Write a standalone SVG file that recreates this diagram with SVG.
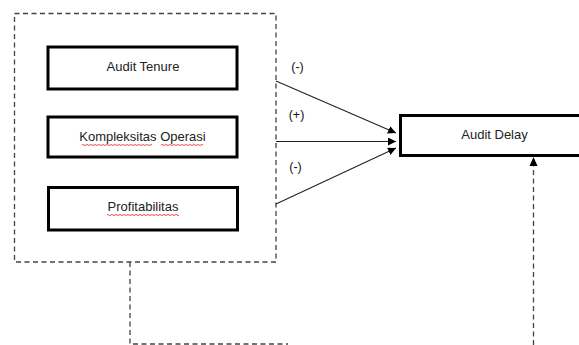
<svg xmlns="http://www.w3.org/2000/svg" width="579" height="345" viewBox="0 0 579 345">
<style>
.box{fill:#fff;stroke:#000;stroke-width:3}
.lbl{font-family:"Liberation Sans",Arial,sans-serif;font-size:13px;fill:#222;text-anchor:middle}
.sgn{font-family:"Liberation Sans",Arial,sans-serif;font-size:12.5px;fill:#111;text-anchor:middle}
.dash{fill:none;stroke:#444;stroke-width:1.3;stroke-dasharray:5 3.5}
.conn{fill:none;stroke:#222;stroke-width:1.1}
.sq{fill:none;stroke:#e02020;stroke-width:0.8}
</style>
<defs>
<marker id="ah" viewBox="0 0 10 10" refX="10" refY="5" markerWidth="8" markerHeight="8" markerUnits="userSpaceOnUse" orient="auto">
<path d="M0,0 L10,5 L0,10 z" fill="#000"/>
</marker>
</defs>
<rect width="579" height="345" fill="#fff"/>
<g id="frame">
<rect class="dash" x="14.5" y="13.5" width="261.5" height="248.5"/>
</g>
<g id="audit-tenure">
<rect class="box" x="48" y="47" width="189" height="42"/>
<text class="lbl" x="143" y="71">Audit Tenure</text>
</g>
<g id="kompleksitas-operasi">
<rect class="box" x="48" y="117" width="189" height="40"/>
<text class="lbl" x="142.5" y="141">Kompleksitas Operasi</text>
<path class="sq" d="M82,145 q1,-1 2,0 t2,0 t2,0 t2,0 t2,0 t2,0 t2,0 t2,0 t2,0 t2,0 t2,0 t2,0 t2,0 t2,0 t2,0 t2,0 t2,0 t2,0 t2,0 t2,0 t2,0 t2,0 t2,0 t2,0 t2,0 t2,0 t2,0 t2,0 t2,0 t2,0 t2,0 t2,0 t2,0 t2,0 t2,0"/>
<path class="sq" d="M161,145 q1,-1 2,0 t2,0 t2,0 t2,0 t2,0 t2,0 t2,0 t2,0 t2,0 t2,0 t2,0 t2,0 t2,0 t2,0 t2,0 t2,0 t2,0 t2,0 t2,0 t2,0 t2,0"/>
</g>
<g id="profitabilitas">
<rect class="box" x="48.5" y="187.5" width="189" height="42.5"/>
<text class="lbl" x="143" y="211">Profitabilitas</text>
<path class="sq" d="M107,215 q1,-1 2,0 t2,0 t2,0 t2,0 t2,0 t2,0 t2,0 t2,0 t2,0 t2,0 t2,0 t2,0 t2,0 t2,0 t2,0 t2,0 t2,0 t2,0 t2,0 t2,0 t2,0 t2,0 t2,0 t2,0 t2,0 t2,0 t2,0 t2,0 t2,0 t2,0 t2,0 t2,0 t2,0 t2,0 t2,0 t2,0"/>
</g>
<g id="audit-delay">
<rect class="box" x="400.5" y="115.5" width="185" height="40"/>
<text class="lbl" x="494.5" y="139">Audit Delay</text>
</g>
<g id="connectors">
<line class="conn" x1="276" y1="81" x2="396" y2="133" marker-end="url(#ah)"/>
<line class="conn" x1="276" y1="141.5" x2="396" y2="141.5" marker-end="url(#ah)"/>
<line class="conn" x1="276" y1="204" x2="396" y2="148" marker-end="url(#ah)"/>
<polyline class="dash" points="130,262 130,344 288,344"/>
<line class="dash" x1="533.5" y1="345" x2="533.5" y2="164"/>
<path d="M533.5,157 L537.5,166 L529.5,166 z" fill="#000"/>
<text class="sgn" x="297.5" y="71">(-)</text>
<text class="sgn" x="296.5" y="119">(+)</text>
<text class="sgn" x="295.5" y="171">(-)</text>
</g>
</svg>
